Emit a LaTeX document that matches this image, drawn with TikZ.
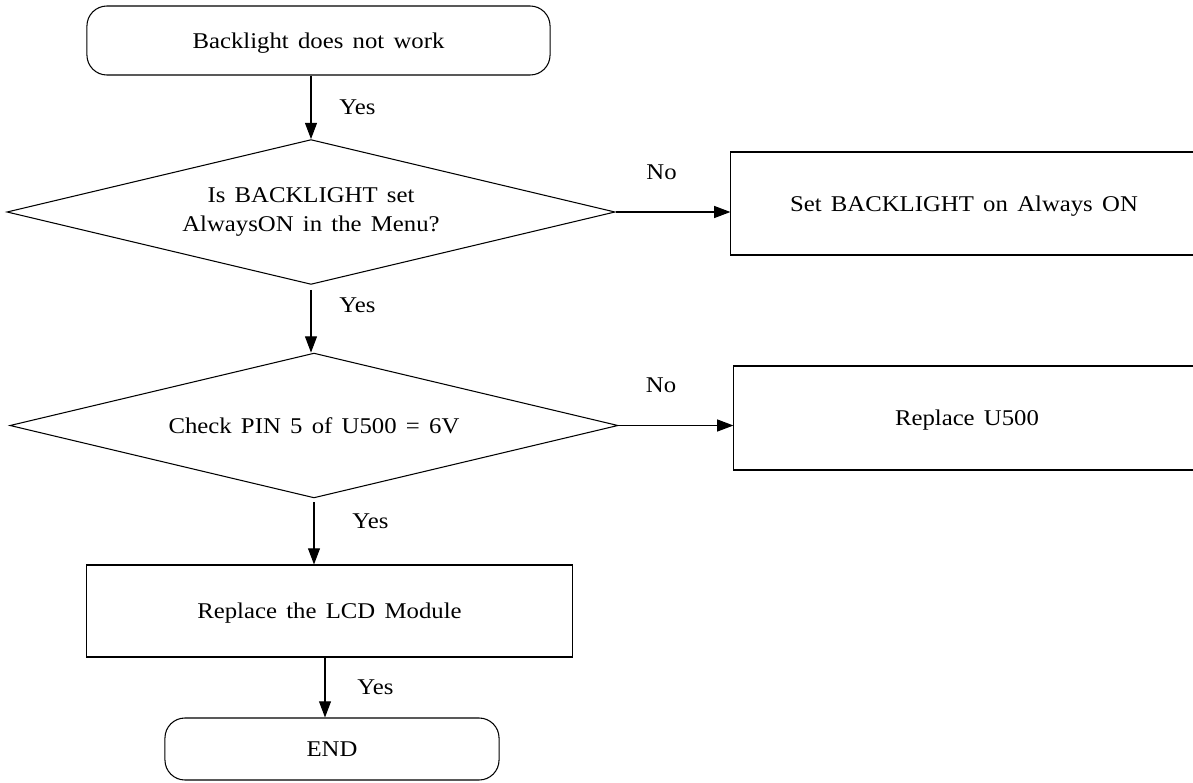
\documentclass[tikz,border=0pt]{standalone}
\usepackage{fontspec}
\setmainfont[FakeStretch=1.1, WordSpace=1.5]{Liberation Serif}
\usetikzlibrary{shapes.geometric, arrows.meta, positioning}

\tikzset{
  termbox/.style={draw, rounded corners=0.5cm, minimum width=#1, minimum height=1.6cm, inner sep=0pt, text depth=0pt},
  actbox/.style={draw, rectangle, minimum width=11.65cm, minimum height=2.6cm, inner sep=0pt, text depth=0pt},
  decide/.style={draw, diamond, aspect=4.2, minimum width=15.2cm, minimum height=3.62cm, inner sep=0pt, align=center},
  flow/.style={-{Triangle[length=11.5pt,width=8.5pt]}},
  lbl/.style={inner sep=0pt}
}

\begin{document}
\begin{tikzpicture}[x=0.025cm, y=-0.025cm, font=\fontsize{16}{20.5}\selectfont, line width=0.75pt]
        \useasboundingbox (0,0) rectangle (1193,783);
        \clip (0,0) rectangle (1193,783);
        % main column
        \node[termbox=11.575cm, minimum height=1.725cm] (start) at (318.5,40.5) {Backlight does not work};
        \node[decide] (askmenu) at (311,212) {Is BACKLIGHT set\\AlwaysON in the Menu?};
        \node[decide] (askpin) at (314,425.5) {Check PIN 5 of U500 = 6V};
        \node[actbox, minimum width=12.125cm, minimum height=2.3cm] (lcd) at (329.5,611) {Replace the LCD Module};
        \node[termbox=8.35cm, minimum height=1.55cm] (stop) at (332,749) {END};
        % right column (cut by the page edge)
        \node[actbox, minimum height=2.575cm] (setmenu) at (964,203.5) {Set BACKLIGHT on Always ON};
        \node[actbox] (newu) at (967,418) {Replace U500};
        % yes arrows
        \draw[flow] (askmenu.north |- start.south) -- (askmenu.north)
          node[lbl, pos=0.5, right=28pt*0.71] {Yes};
        \draw[flow] ([yshift=-5*0.71pt]askmenu.south) -- (askpin.north -| askmenu.south)
          node[lbl, pos=0.25, right=28pt*0.71] {Yes};
        \draw[flow] ([yshift=-4*0.71pt]askpin.south) -- (lcd.north -| askpin.south)
          node[lbl, pos=0.3, right=38pt*0.71] {Yes};
        \draw[flow] ([xshift=-4.5*0.71pt]lcd.south) -- ([xshift=-4.5*0.71pt]lcd.south |- stop.north)
          node[lbl, pos=0.5, right=32pt*0.71] {Yes};
        % no arrows
        \draw[flow] (askmenu.east) -- (askmenu.east -| setmenu.west)
          node[lbl, pos=0.4, above=32pt*0.71] {No};
        \draw[flow] (askpin.east) -- (askpin.east -| newu.west)
          node[lbl, pos=0.37, above=32pt*0.71] {No};
\end{tikzpicture}
\end{document}
